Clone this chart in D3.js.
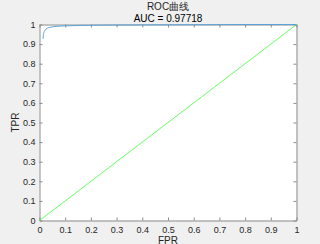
<!DOCTYPE html>
<html>
<head>
<meta charset="utf-8">
<script src="https://cdn.jsdelivr.net/npm/d3@7"></script>
<style>
  body { margin: 0; background: #f0f0f0; }
  svg { display: block; font-family: "Liberation Sans", Arial, sans-serif; }
</style>
</head>
<body>
<div id="chart-container"></div>
<script>
// roc curve points
const fpr = [0.014, 0.015, 0.017, 0.02, 0.025, 0.03, 0.04, 0.05, 0.07, 0.1, 0.15, 0.25, 0.4, 0.6, 0.8, 1];
const tpr = [0.927, 0.945, 0.958, 0.968, 0.976, 0.981, 0.985, 0.988, 0.991, 0.993, 0.995, 0.997, 0.998, 0.999, 1, 1];
// random-guess diagonal
const diagX = [0, 1];
const diagY = [0, 1];
const ticks = [0, 0.1, 0.2, 0.3, 0.4, 0.5, 0.6, 0.7, 0.8, 0.9, 1];
const titleText = "ROC曲线";
const aucText = "AUC = 0.97718";

const margin = { top: 24, right: 24, bottom: 24, left: 39 };
const width = 320 - margin.left - margin.right;
const height = 244 - margin.top - margin.bottom;

const xScale = d3.scaleLinear().domain([0, 1]).range([0, width]);
const yScale = d3.scaleLinear().domain([0, 1]).range([height, 0]);

const root = d3
  .select("#chart-container")
  .append("svg")
  .attr("width", 320)
  .attr("height", 244);

const svg = root
  .append("g")
  .attr("transform", `translate(${margin.left + 0.5}, ${margin.top + 0.5})`);

// plot background
svg.append("rect").attr("width", width).attr("height", height).attr("fill", "#fff");

const fmt = (d) => (d === 0 ? "0" : d === 1 ? "1" : d3.format(".1f")(d));

function styleAxis(g, showText) {
  g.select(".domain").attr("stroke", "#8c8c8c");
  g.selectAll(".tick line").attr("stroke", "#8c8c8c");
  g.selectAll(".tick text")
    .attr("fill", "#262626")
    .style("font-size", "9px")
    .style("visibility", showText ? "visible" : "hidden");
}

// bottom axis
svg.append("g")
  .attr("transform", `translate(0, ${height})`)
  .call(d3.axisBottom(xScale).tickValues(ticks).tickFormat(fmt).tickSizeInner(-3).tickSizeOuter(0).tickPadding(6))
  .call((g) => styleAxis(g, true));

// top axis
svg.append("g")
  .call(d3.axisTop(xScale).tickValues(ticks).tickSizeInner(-3).tickSizeOuter(0))
  .call((g) => styleAxis(g, false));

// left axis
svg.append("g")
  .call(d3.axisLeft(yScale).tickValues(ticks).tickFormat(fmt).tickSizeInner(-3).tickSizeOuter(0).tickPadding(4))
  .call((g) => styleAxis(g, true));

// right axis
svg.append("g")
  .attr("transform", `translate(${width}, 0)`)
  .call(d3.axisRight(yScale).tickValues(ticks).tickSizeInner(-3).tickSizeOuter(0))
  .call((g) => styleAxis(g, false));

const line = d3
  .line()
  .x((d) => xScale(d[0]))
  .y((d) => yScale(d[1]));

// diagonal
svg.append("path")
  .datum(diagX.map((x, i) => [x, diagY[i]]))
  .attr("fill", "none")
  .attr("stroke", "#3cff3c")
  .attr("stroke-width", 0.8)
  .attr("d", line);

// roc curve
svg.append("path")
  .datum(fpr.map((x, i) => [x, tpr[i]]))
  .attr("fill", "none")
  .attr("stroke", "#5aa3d8")
  .attr("stroke-width", 1)
  .attr("d", d3.line().curve(d3.curveMonotoneX).x((d) => xScale(d[0])).y((d) => yScale(d[1])));

// axis labels
svg.append("text")
  .attr("x", width / 2)
  .attr("y", height + 23)
  .attr("text-anchor", "middle")
  .style("font-size", "10px")
  .attr("fill", "#262626")
  .text("FPR");

svg.append("text")
  .attr("transform", `translate(${-20.5}, ${height / 2}) rotate(-90)`)
  .attr("text-anchor", "middle")
  .style("font-size", "10px")
  .attr("fill", "#262626")
  .text("TPR");

// titles
svg.append("text")
  .attr("x", width / 2)
  .attr("y", -15)
  .attr("text-anchor", "middle")
  .style("font-size", "10px")
  .attr("fill", "#262626")
  .text(titleText);

svg.append("text")
  .attr("x", width / 2)
  .attr("y", -3)
  .attr("text-anchor", "middle")
  .style("font-size", "10px")
  .attr("fill", "#000")
  .text(aucText);
</script>
</body>
</html>
